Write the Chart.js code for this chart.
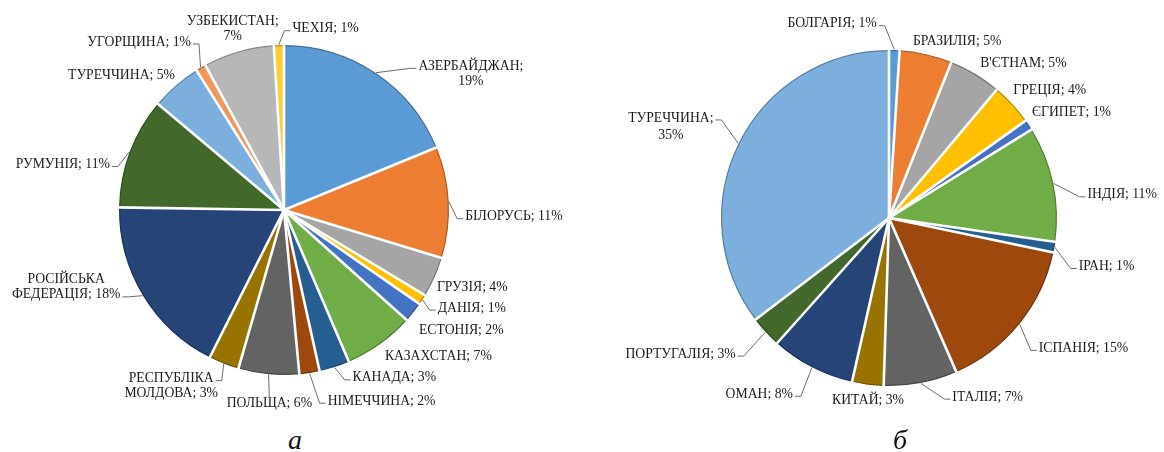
<!DOCTYPE html>
<html>
<head>
<meta charset="utf-8">
<script src="https://cdn.jsdelivr.net/npm/chart.js@4/dist/chart.umd.min.js"></script>
<style>
  body { margin: 0; background: #fff; width: 1164px; height: 452px; overflow: hidden; position: relative; }
  .box { position: absolute; }
  #boxA { left: 0; top: 0; width: 568px; height: 420px; }
  #boxB { left: 614px; top: 0; width: 550px; height: 436px; }
  .cap { position: absolute; top: 423px; font: italic 28px "Liberation Serif", serif; color: #111; line-height: 34px; }
</style>
</head>
<body>
<div class="box" id="boxA"><canvas id="chartA"></canvas></div>
<div class="box" id="boxB"><canvas id="chartB"></canvas></div>
<div class="cap" style="left:288px">а</div>
<div class="cap" style="left:893px">б</div>
<script>
// --- data (а) ---
const countriesA = ["АЗЕРБАЙДЖАН", "БІЛОРУСЬ", "ГРУЗІЯ", "ДАНІЯ", "ЕСТОНІЯ", "КАЗАХСТАН", "КАНАДА",
  "НІМЕЧЧИНА", "ПОЛЬЩА", "РЕСПУБЛІКА МОЛДОВА", "РОСІЙСЬКА ФЕДЕРАЦІЯ", "РУМУНІЯ", "ТУРЕЧЧИНА",
  "УГОРЩИНА", "УЗБЕКИСТАН", "ЧЕХІЯ"];
const sharesA = [19, 11, 4, 1, 2, 7, 3, 2, 6, 3, 18, 11, 5, 1, 7, 1];

// --- data (б) ---
const countriesB = ["БОЛГАРІЯ", "БРАЗИЛІЯ", "В'ЄТНАМ", "ГРЕЦІЯ", "ЄГИПЕТ", "ІНДІЯ", "ІРАН", "ІСПАНІЯ",
  "ІТАЛІЯ", "КИТАЙ", "ОМАН", "ПОРТУГАЛІЯ", "ТУРЕЧЧИНА"];
const sharesB = [1, 5, 5, 4, 1, 11, 1, 15, 7, 3, 8, 3, 35];

// office palette
const palette = ["#5B9BD5", "#ED7D31", "#A5A5A5", "#FFC000", "#4472C4", "#70AD47", "#255E91", "#9E480E",
  "#636363", "#997300", "#264478", "#43682B", "#7CAFDD", "#F1975A", "#B7B7B7", "#FFCD33"];

function darker(hex, f) {
  const n = parseInt(hex.slice(1), 16);
  const r = Math.round(((n >> 16) & 255) * f), g = Math.round(((n >> 8) & 255) * f), b = Math.round((n & 255) * f);
  return `rgb(${r},${g},${b})`;
}

// label placement: align, dx, dy, leader?, line the leader attaches to, how to break
const layoutA = [
  { a: "l", dx: 35, dy: 12, lead: true, ln: 0, br: "semi" },
  { a: "l", dx: 3, dy: 15, lead: true },
  { a: "l", dx: -10, dy: 5 },
  { a: "l", dx: 4, dy: 1, lead: true },
  { a: "l", dx: -5, dy: 10 },
  { a: "l", dx: -3, dy: 1 },
  { a: "l", dx: 14, dy: -2, lead: true },
  { a: "l", dx: 16, dy: 15, lead: true },
  { a: "c", dx: 2, dy: 16, lead: true },
  { a: "r", dx: -1, dy: 10, lead: true, ln: 0, br: "word" },
  { a: "r", dx: -11, dy: -15, lead: true, ln: 1, br: "word" },
  { a: "r", dx: -7, dy: 17, lead: true },
  { a: "r", dx: 8, dy: 0 },
  { a: "r", dx: -3, dy: -14, lead: true },
  { a: "c", dx: -2, dy: -10, br: "semi" },
  { a: "l", dx: 14, dy: -3, lead: true }
];
const layoutB = [
  { a: "r", dx: -18, dy: -13, lead: true },
  { a: "l", dx: -16, dy: 0 },
  { a: "l", dx: -2, dy: 1 },
  { a: "l", dx: -9, dy: -5 },
  { a: "l", dx: -8, dy: -5 },
  { a: "l", dx: 21, dy: 14, lead: true },
  { a: "l", dx: 11, dy: 17, lead: true },
  { a: "l", dx: 9, dy: 16, lead: true },
  { a: "l", dx: 29, dy: 1, lead: true },
  { a: "c", dx: 2, dy: 2 },
  { a: "r", dx: -13, dy: 15, lead: true },
  { a: "r", dx: -20, dy: 13, lead: true },
  { a: "r", dx: -13, dy: -11, lead: true, ln: 0, br: "semi", lh: 17 }
];

const FONT = '13.7px "Liberation Serif", serif';
const LH = 15;

function splitLabel(name, val, br) {
  if (br === "semi") return [`${name};`, `${val}%`];
  if (br === "word") {
    const i = name.indexOf(" ");
    return [name.slice(0, i), `${name.slice(i + 1)}; ${val}%`];
  }
  return [`${name}; ${val}%`];
}

// white gaps between slices, drawn over the boundaries
const sliceGaps = {
  id: "sliceGaps",
  afterDatasetDraw(chart) {
    const ctx = chart.ctx;
    const arcs = chart.getDatasetMeta(0).data;
    ctx.save();
    ctx.strokeStyle = "#fff";
    ctx.lineWidth = 2.6;
    ctx.lineCap = "butt";
    arcs.forEach(arc => {
      const p = arc.getProps(["x", "y", "startAngle", "outerRadius"], true);
      ctx.beginPath();
      ctx.moveTo(p.x, p.y);
      ctx.lineTo(p.x + Math.cos(p.startAngle) * (p.outerRadius + 3), p.y + Math.sin(p.startAngle) * (p.outerRadius + 3));
      ctx.stroke();
    });
    ctx.restore();
  }
};

const sliceLabels = {
  id: "sliceLabels",
  afterDatasetsDraw(chart, args, opts) {
    const ctx = chart.ctx;
    const meta = chart.getDatasetMeta(0);
    const names = chart.data.labels;
    const vals = chart.data.datasets[0].data;
    ctx.save();
    ctx.font = FONT;
    ctx.textBaseline = "middle";
    meta.data.forEach((arc, i) => {
      const p = arc.getProps(["x", "y", "startAngle", "endAngle", "outerRadius"], true);
      const mid = (p.startAngle + p.endAngle) / 2;
      const L = opts.layout[i];
      const lh = L.lh || LH;
      const R = p.outerRadius + opts.gap;
      const ax = p.x + Math.cos(mid) * R + L.dx;
      const ay = p.y + Math.sin(mid) * R + L.dy;
      const lines = splitLabel(names[i], vals[i], L.br);
      const widths = lines.map(t => ctx.measureText(t).width);
      const bw = Math.max(...widths);
      let cx;
      if (L.a === "l") cx = ax + bw / 2;
      else if (L.a === "r") cx = ax - bw / 2;
      else cx = ax;
      ctx.fillStyle = "#1a1a1a";
      ctx.textAlign = "center";
      lines.forEach((t, k) => {
        ctx.fillText(t, cx, ay + (k - (lines.length - 1) / 2) * lh);
      });
      if (L.lead) {
        const ex = p.x + Math.cos(mid) * (p.outerRadius + 1);
        const ey = p.y + Math.sin(mid) * (p.outerRadius + 1);
        const k = L.ln || 0;
        const ly = ay + (k - (lines.length - 1) / 2) * lh + 2;
        const half = widths[k] / 2;
        ctx.strokeStyle = "#6b6b6b";
        ctx.lineWidth = 1;
        ctx.beginPath();
        if (L.a === "c") {
          const top = ay - (lines.length / 2) * lh + 3;
          ctx.moveTo(ex, ey);
          ctx.lineTo(cx, top);
        } else {
          const sx = L.a === "l" ? cx - half - 2 : cx + half + 2;
          const elbow = L.a === "l" ? sx - 6 : sx + 6;
          ctx.moveTo(ex, ey);
          ctx.lineTo(elbow, ly);
          ctx.lineTo(sx, ly);
        }
        ctx.stroke();
      }
    });
    ctx.restore();
  }
};

function makePie(id, labels, data, layout, pad) {
  const fills = labels.map((_, i) => palette[i % palette.length]);
  return new Chart(document.getElementById(id), {
    type: "pie",
    data: {
      labels: labels,
      datasets: [{
        data: data,
        backgroundColor: fills,
        borderColor: fills.map(c => darker(c, 0.72)),
        borderWidth: 1.2
      }]
    },
    options: {
      responsive: true,
      maintainAspectRatio: false,
      animation: false,
      layout: { padding: pad },
      plugins: {
        legend: { display: false },
        tooltip: { enabled: false },
        sliceLabels: { layout: layout, gap: 14 }
      }
    },
    plugins: [sliceGaps, sliceLabels]
  });
}

makePie("chartA", countriesA, sharesA, layoutA, { top: 45, bottom: 45, left: 10, right: 10 });
makePie("chartB", countriesB, sharesB, layoutB, { top: 50, bottom: 50, left: 10, right: 10 });
</script>
</body>
</html>
